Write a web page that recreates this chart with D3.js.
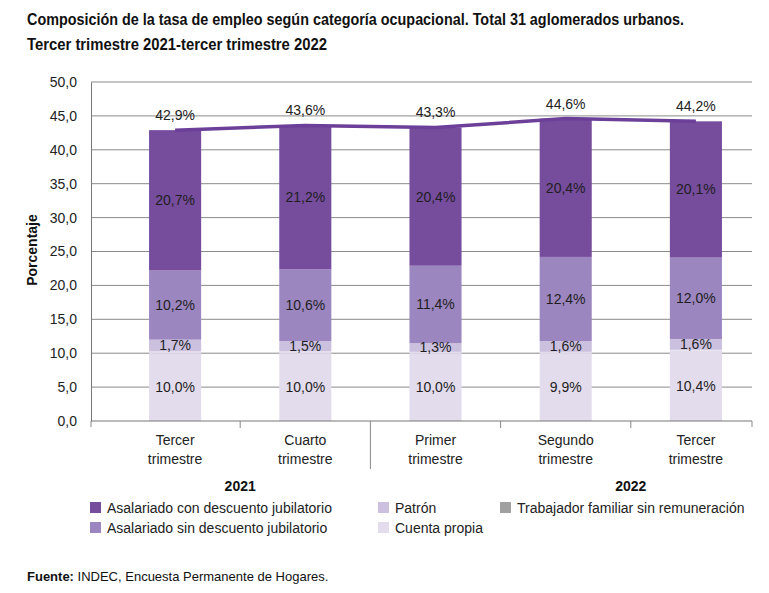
<!DOCTYPE html>
<html><head><meta charset="utf-8">
<script src="https://cdn.jsdelivr.net/npm/d3@7"></script>
<style>
body{margin:0;background:#fff;}
svg{display:block;font-family:"Liberation Sans",Arial,sans-serif;}
</style></head>
<body><svg id="c" width="769" height="593"></svg>
<script>
// ---- data ----
const catLine1 = ["Tercer","Cuarto","Primer","Segundo","Tercer"];
const catLine2 = ["trimestre","trimestre","trimestre","trimestre","trimestre"];
const yearOf = ["2021","2021","2022","2022","2022"];
const years = ["2021","2022"];
const cuentaPropia = [10.0,10.0,10.0,9.9,10.4];
const trabajadorFamiliar = [0.3,0.3,0.2,0.3,0.1];
const patron = [1.7,1.5,1.3,1.6,1.6];
const sinDescuento = [10.2,10.6,11.4,12.4,12.0];
const conDescuento = [20.7,21.2,20.4,20.4,20.1];
const total = [42.9,43.6,43.3,44.6,44.2];
const yTicks = [0,5,10,15,20,25,30,35,40,45,50];

const loc = d3.formatLocale({decimal:",",thousands:".",grouping:[3],currency:["$",""]});
const f1 = loc.format(".1f");

const svg = d3.select("#c");
const col = {cp:"#e3dcec", tf:"#e3dcec", pa:"#cbc0de", sd:"#9c86c0", cd:"#764c9d", tfLegend:"#a0a0a0", line:"#6c3f99"};

// title (condensed look via textLength)
svg.append("text").attr("x",27).attr("y",25).attr("font-weight","bold")
  .attr("font-size",16).attr("fill","#111").attr("textLength",657).attr("lengthAdjust","spacingAndGlyphs")
  .text("Composición de la tasa de empleo según categoría ocupacional. Total 31 aglomerados urbanos.");
svg.append("text").attr("x",27).attr("y",50).attr("font-weight","bold")
  .attr("font-size",16).attr("fill","#111").attr("textLength",300).attr("lengthAdjust","spacingAndGlyphs")
  .text("Tercer trimestre 2021-tercer trimestre 2022");

const left = 91, right = 752;
const y = d3.scaleLinear().domain([0,50]).range([421,82]);
const x = d3.scaleBand().domain(d3.range(catLine1.length)).range([110,761]).paddingInner(0.6).paddingOuter(0.3);

// gridlines
svg.append("g").selectAll("line").data(yTicks.filter(d=>d>0)).join("line")
  .attr("x1",left).attr("x2",right).attr("y1",d=>y(d)).attr("y2",d=>y(d))
  .attr("stroke","#8a8a8a").attr("stroke-width",1);

// y axis
const ya = svg.append("g").attr("transform",`translate(${left},0)`)
  .call(d3.axisLeft(y).tickValues(yTicks).tickFormat(f1).tickSize(0).tickPadding(14));
ya.select(".domain").attr("stroke","#777");
ya.selectAll("text").attr("font-size",14).attr("fill","#222").attr("font-family",'"Liberation Sans",Arial,sans-serif');

svg.append("text").attr("transform","translate(37,250) rotate(-90)").attr("text-anchor","middle")
  .attr("font-weight","bold").attr("font-size",14).attr("fill","#111").text("Porcentaje");

// stacked bars
const keys = ["cp","tf","pa","sd","cd"];
const rows = d3.range(catLine1.length).map(i=>({i, cp:cuentaPropia[i], tf:trabajadorFamiliar[i], pa:patron[i], sd:sinDescuento[i], cd:conDescuento[i]}));
const stacked = d3.stack().keys(keys)(rows);
const gBars = svg.append("g");
stacked.forEach(s=>{
  gBars.append("g").attr("fill",col[s.key]).selectAll("rect").data(s).join("rect")
    .attr("x",d=>x(d.data.i)).attr("width",x.bandwidth())
    .attr("y",d=>y(d[1])).attr("height",d=>y(d[0])-y(d[1]));
});
// segment labels
stacked.filter(s=>s.key!=="tf").forEach(s=>{
  svg.append("g").selectAll("text").data(s).join("text")
    .attr("x",d=>x(d.data.i)+x.bandwidth()/2)
    .attr("y",d=>y((d[0]+d[1])/2)+5)
    .attr("text-anchor","middle").attr("font-size",14).attr("fill","#1e1e1e")
    .text(d=>f1(d.data[s.key])+"%");
});

// x axis
const base = y(0);
svg.append("line").attr("x1",left).attr("x2",right).attr("y1",base).attr("y2",base).attr("stroke","#777");
const bounds = d3.range(1,catLine1.length).map(i=>x(i)-x.step()*x.paddingInner()/2);
svg.append("g").selectAll("line").data(bounds).join("line")
  .attr("x1",d=>d).attr("x2",d=>d).attr("y1",base)
  .attr("y2",(d,k)=> yearOf[k]!==yearOf[k+1] ? base+48 : base+7)
  .attr("stroke","#888");
svg.append("line").attr("x1",left).attr("x2",left).attr("y1",base).attr("y2",base+6).attr("stroke","#888");
svg.append("line").attr("x1",right).attr("x2",right).attr("y1",base).attr("y2",base+6).attr("stroke","#888");

const cx = i=>x(i)+x.bandwidth()/2;
const xl = svg.append("g").selectAll("text").data(d3.range(catLine1.length)).join("text")
  .attr("text-anchor","middle").attr("font-size",14).attr("fill","#222");
xl.append("tspan").attr("x",cx).attr("y",base+24).text(i=>catLine1[i]);
xl.append("tspan").attr("x",cx).attr("y",base+43).text(i=>catLine2[i]);

years.forEach(yr=>{
  const idx = d3.range(yearOf.length).filter(i=>yearOf[i]===yr);
  const a = idx[idx.length-2], b = idx[idx.length-1];
  svg.append("text").attr("x",(cx(a)+cx(b))/2).attr("y",base+70).attr("text-anchor","middle")
    .attr("font-weight","bold").attr("font-size",14).attr("fill","#111").text(yr);
});

// total line
svg.append("path").datum(total)
  .attr("d",d3.line().x((d,i)=>cx(i)).y(d=>y(d)))
  .attr("fill","none").attr("stroke",col.line).attr("stroke-width",3.5);
svg.append("g").selectAll("text").data(total).join("text")
  .attr("x",(d,i)=>cx(i)).attr("y",d=>y(d)-10).attr("text-anchor","middle")
  .attr("font-size",14).attr("fill","#222").text(d=>f1(d)+"%");

// legend
const legend = [
  {t:"Asalariado con descuento jubilatorio", c:col.cd, col:0,row:0},
  {t:"Asalariado sin descuento jubilatorio", c:col.sd, col:0,row:1},
  {t:"Patrón", c:col.pa, col:1,row:0},
  {t:"Cuenta propia", c:col.cp, col:1,row:1},
  {t:"Trabajador familiar sin remuneración", c:col.tfLegend, col:2,row:0}
];
const lx = [90,378,500];
const lg = svg.append("g").selectAll("g").data(legend).join("g")
  .attr("transform",d=>`translate(${lx[d.col]},${502+d.row*20})`);
lg.append("rect").attr("width",11).attr("height",11).attr("fill",d=>d.c);
lg.append("text").attr("x",17).attr("y",10.5).attr("font-size",14).attr("fill","#222").text(d=>d.t);

// source
const src = svg.append("text").attr("x",27).attr("y",581).attr("font-size",13).attr("fill","#111");
src.append("tspan").attr("font-weight","bold").text("Fuente:");
src.append("tspan").text(" INDEC, Encuesta Permanente de Hogares.");
</script></body></html>
